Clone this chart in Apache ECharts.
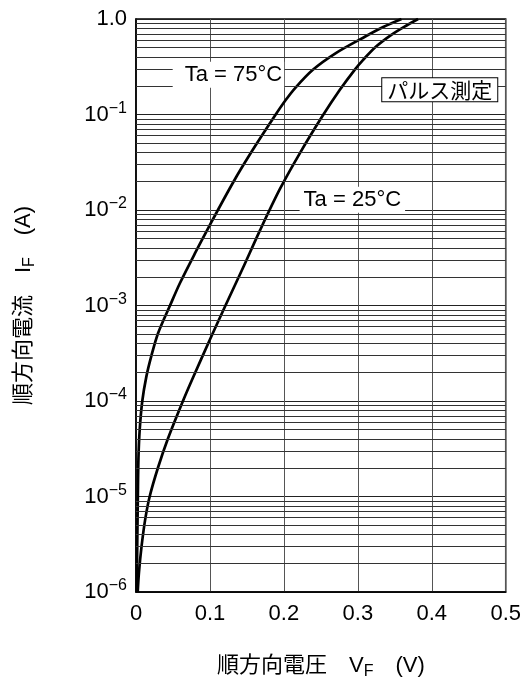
<!DOCTYPE html>
<html><head><meta charset="utf-8">
<script src="https://cdn.jsdelivr.net/npm/echarts@6/dist/echarts.min.js"></script>
<style>html,body{margin:0;padding:0;background:#fff}#c{width:524px;height:686px}</style>
</head><body><div id="c"></div>
<script>
const FONT = '"Liberation Sans", Arial, "Noto Sans CJK JP", sans-serif';
const CJK = '"Noto Sans CJK JP", "Liberation Sans", sans-serif';

// Ta = 75°C : forward voltage (V) / forward current (A)
const vf75 = [0.001, 0.0017, 0.0025, 0.0033, 0.005, 0.0085, 0.014, 0.0207, 0.0297, 0.046, 0.0595, 0.08, 0.1, 0.1311, 0.1554, 0.1878, 0.2027, 0.2155, 0.2392, 0.2703, 0.3101, 0.335, 0.359];
const if75 = [1e-6, 3.2e-6, 1e-5, 2.5e-5, 5e-5, 1e-4, 1.8e-4, 2.95e-4, 5.1e-4, 1e-3, 1.72e-3, 3.55e-3, 7e-3, 1.93e-2, 3.97e-2, 9.69e-2, 0.1425, 0.1904, 0.2938, 0.4395, 0.6558, 0.8285, 1.0];
// Ta = 25°C
const vf25 = [0.0023, 0.004, 0.0075, 0.0125, 0.0185, 0.0297, 0.043, 0.0635, 0.077, 0.100, 0.121, 0.1449, 0.168, 0.1945, 0.2219, 0.2524, 0.2757, 0.2957, 0.3072, 0.3247, 0.3453, 0.3626, 0.3815];
const if25 = [1e-6, 1.6e-6, 3e-6, 5.8e-6, 1e-5, 2e-5, 4e-5, 1e-4, 1.75e-4, 4.4e-4, 1e-3, 2.5e-3, 6.2e-3, 1.651e-2, 3.97e-2, 9.69e-2, 0.1814, 0.2938, 0.3739, 0.5152, 0.6833, 0.8285, 1.0];

const seriesNames = ['Ta = 75°C', 'Ta = 25°C'];
const noteText = 'パルス測定';
const xTicks = [0, 0.1, 0.2, 0.3, 0.4, 0.5];
const yDecades = [1e-6, 1e-5, 1e-4, 1e-3, 1e-2, 1e-1, 1];
const minorMultipliers = [2, 3, 4, 5, 6, 7, 8, 9];

const minorLines = [];
yDecades.slice(0, -1).forEach(d => minorMultipliers.forEach(m => minorLines.push({ yAxis: d * m })));

const chart = echarts.init(document.getElementById('c'), null, { renderer: 'canvas' });
chart.setOption({
  animation: false,
  backgroundColor: '#fff',
  grid: { left: 136, right: 18, top: 19, bottom: 94, show: true, borderColor: '#000', borderWidth: 1.5, backgroundColor: '#fff' },
  xAxis: {
    type: 'value', min: xTicks[0], max: xTicks[xTicks.length - 1], interval: 0.1,
    axisLine: { show: true, lineStyle: { color: '#000', width: 1.5 } },
    axisTick: { show: false },
    splitLine: { show: true, lineStyle: { color: '#555', width: 1 } },
    axisLabel: { margin: 11, color: '#000', fontSize: 22, fontFamily: FONT,
      formatter: v => v === 0 ? '0' : v.toFixed(1) },
    name: '{n|順方向電圧　V}{sub|F}{n|　(V)}',
    nameLocation: 'middle', nameGap: 60,
    nameTextStyle: { color: '#000', fontFamily: CJK,
      rich: { n: { fontSize: 22, lineHeight: 28, fontFamily: FONT, color: '#000' },
              sub: { fontSize: 16, lineHeight: 16, verticalAlign: 'bottom', fontFamily: FONT, color: '#000' } } }
  },
  yAxis: {
    type: 'log', logBase: 10, min: yDecades[0], max: yDecades[yDecades.length - 1], splitNumber: 6,
    axisLine: { show: true, lineStyle: { color: '#000', width: 1.5 } },
    axisTick: { show: false },
    splitLine: { show: true, lineStyle: { color: '#222', width: 1 } },
    axisLabel: { margin: 9, color: '#000', fontFamily: FONT,
      formatter: v => { const e = Math.round(Math.log10(v)); return e === 0 ? '{b|1.0}' : '{b|10}{s|−' + (-e) + '}'; },
      rich: { b: { fontSize: 22, lineHeight: 28, fontFamily: FONT, color: '#000' },
              s: { fontSize: 16, lineHeight: 16, verticalAlign: 'top', fontFamily: FONT, color: '#000' } } },
    name: '{n|順方向電流　I}{sub|F}{n|　(A)}',
    nameLocation: 'middle', nameGap: 98, nameRotate: 90,
    nameTextStyle: { color: '#000',
      rich: { n: { fontSize: 22, lineHeight: 28, fontFamily: FONT, color: '#000' },
              sub: { fontSize: 16, lineHeight: 16, verticalAlign: 'bottom', fontFamily: FONT, color: '#000' } } }
  },
  series: [
    {
      type: 'line', name: 'grid', data: [], z: 1, silent: true,
      markLine: { silent: true, symbol: 'none', animation: false, precision: 12, label: { show: false },
        lineStyle: { color: '#333', width: 1, type: 'solid' }, emphasis: { disabled: true },
        data: minorLines }
    },
    {
      type: 'line', name: seriesNames[0], z: 3, showSymbol: false, smooth: 0.3,
      lineStyle: { color: '#000', width: 2.7 },
      data: vf75.map((v, i) => [v, if75[i]]),
      markPoint: { symbol: 'rect', symbolSize: 1, itemStyle: { color: 'rgba(0,0,0,0)' }, z: 5, silent: true,
        data: [{ coord: [0.125, 0.2606], value: seriesNames[0],
          label: { show: true, position: 'inside', formatter: seriesNames[0], color: '#000', fontSize: 22, fontFamily: FONT,
            backgroundColor: '#fff', padding: [2, 2, 2, 12] } }] }
    },
    {
      type: 'line', name: seriesNames[1], z: 3, showSymbol: false, smooth: 0.3,
      lineStyle: { color: '#000', width: 2.7 },
      data: vf25.map((v, i) => [v, if25[i]]),
      markPoint: { symbol: 'rect', symbolSize: 1, itemStyle: { color: 'rgba(0,0,0,0)' }, z: 5, silent: true,
        data: [
          { coord: [0.2926, 0.0128], value: seriesNames[1],
            label: { show: true, position: 'inside', formatter: seriesNames[1], color: '#000', fontSize: 22, fontFamily: FONT,
              backgroundColor: '#fff', padding: [2, 4, 2, 4] } },
          { coord: [0.4108, 0.1815], value: noteText,
            label: { show: true, position: 'inside', formatter: noteText, color: '#000', fontSize: 21, lineHeight: 22, fontFamily: CJK,
              backgroundColor: '#fff', borderColor: '#000', borderWidth: 1, padding: [1, 5, 0, 5] } }
        ] }
    }
  ]
});
</script></body></html>
